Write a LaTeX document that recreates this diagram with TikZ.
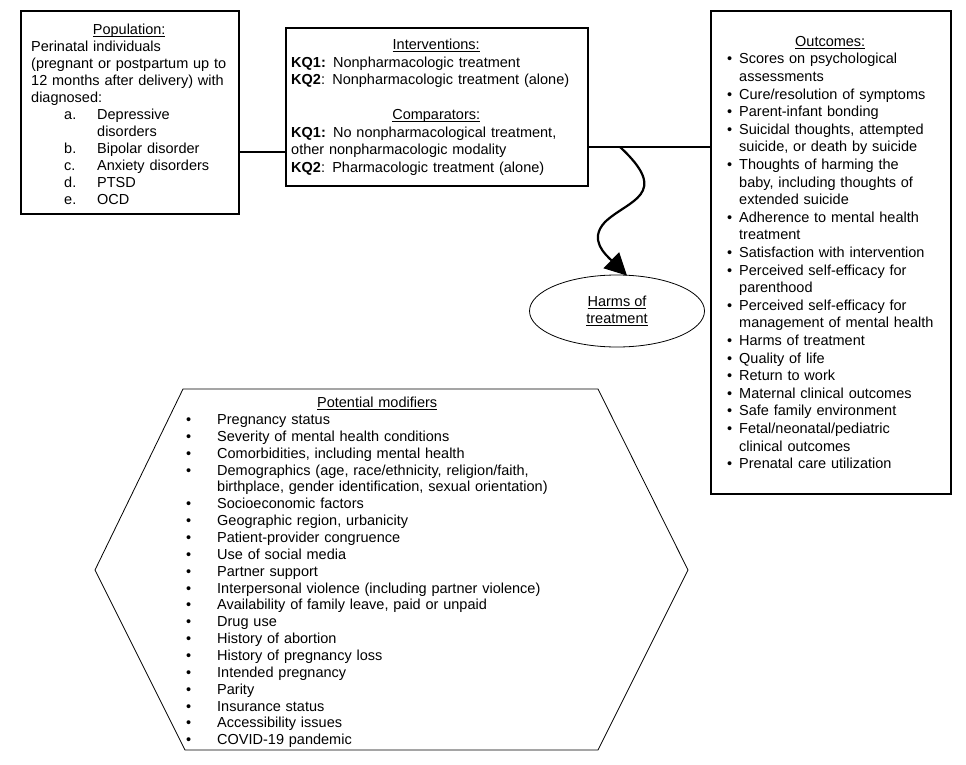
\documentclass[tikz,border=0pt]{standalone}
\usepackage{fontspec}
\setmainfont{Liberation Sans}
\usetikzlibrary{arrows.meta,shapes.geometric,calc}
\newcommand{\uln}[1]{\setbox0\hbox{#1}\rlap{\rule[-2pt]{\wd0}{0.6pt}}\box0}
\newcommand{\bul}[1]{\makebox[12pt][l]{\textbullet}#1}
\newcommand{\cnt}[1]{\hspace*{12pt}#1}
\newcommand{\hb}[1]{\makebox[31pt][l]{\textbullet}#1}
\newcommand{\hc}[1]{\hspace*{31pt}#1}
\begin{document}
\begin{tikzpicture}[x=1pt,y=-1pt,
  box/.style={draw, line width=1.6pt, rectangle, inner sep=0pt},
  txt/.style={inner sep=0pt, align=left, font=\fontsize{14.5}{17}\selectfont},
  conn/.style={line width=1.3pt},
  thin/.style={line width=0.8pt}]
\useasboundingbox (0,0) rectangle (966,765);

% boxes
\node[box, minimum width=218pt, minimum height=203pt, anchor=north west] (pop) at (20,10) {};
\node[box, minimum width=302pt, minimum height=158pt, anchor=north west] (int) at (285,27) {};
\node[box, minimum width=240pt, minimum height=483pt, anchor=north west] (out) at (710,10) {};

% population text
\node[txt, anchor=north west, text width=205pt] (poptxt) at (31,24) {%
\makebox[196pt]{\uln{Population:}}\\
Perinatal individuals\\
(pregnant or postpartum up to\\
12 months after delivery) with\\
diagnosed:\\
\hspace*{33pt}\makebox[33pt][l]{a.}Depressive\\
\hspace*{66pt}disorders\\
\hspace*{33pt}\makebox[33pt][l]{b.}Bipolar disorder\\
\hspace*{33pt}\makebox[33pt][l]{c.}Anxiety disorders\\
\hspace*{33pt}\makebox[33pt][l]{d.}PTSD\\
\hspace*{33pt}\makebox[33pt][l]{e.}OCD};

% interventions text
\node[txt, anchor=north west, text width=290pt, font=\fontsize{14.5}{17.5}\selectfont] (inttxt) at (291,39) {%
\makebox[290pt]{\uln{Interventions:}}\\
\textbf{KQ1:} Nonpharmacologic treatment\\
\textbf{KQ2}: Nonpharmacologic treatment (alone)\\[17.5pt]
\makebox[290pt]{\uln{Comparators:}}\\
\textbf{KQ1:} No nonpharmacological treatment,\\
other nonpharmacologic modality\\
\textbf{KQ2}: Pharmacologic treatment (alone)};

% outcomes text
\node[txt, anchor=north west, text width=220pt, font=\fontsize{14.5}{17.6}\selectfont] (outtxt) at (727,36) {%
\makebox[206pt]{\uln{Outcomes:}}\\
\bul{Scores on psychological}\\
\cnt{assessments}\\
\bul{Cure/resolution of symptoms}\\
\bul{Parent-infant bonding}\\
\bul{Suicidal thoughts, attempted}\\
\cnt{suicide, or death by suicide}\\
\bul{Thoughts of harming the}\\
\cnt{baby, including thoughts of}\\
\cnt{extended suicide}\\
\bul{Adherence to mental health}\\
\cnt{treatment}\\
\bul{Satisfaction with intervention}\\
\bul{Perceived self-efficacy for}\\
\cnt{parenthood}\\
\bul{Perceived self-efficacy for}\\
\cnt{management of mental health}\\
\bul{Harms of treatment}\\
\bul{Quality of life}\\
\bul{Return to work}\\
\bul{Maternal clinical outcomes}\\
\bul{Safe family environment}\\
\bul{Fetal/neonatal/pediatric}\\
\cnt{clinical outcomes}\\
\bul{Prenatal care utilization}};

% harms ellipse
\node[draw, ellipse, thin, minimum width=175pt, minimum height=72pt, align=center,
  font=\fontsize{14.5}{17}\selectfont] (harm) at (617,311) {\uln{Harms of}\\\uln{treatment}};

% connectors
\coordinate (c1) at (238,152);
\coordinate (split) at (620,147);
\draw[conn] (pop.east |- c1) -- (int.west |- c1);
\draw[conn] (int.east |- split) -- (out.west |- split);
\draw[line width=2.2pt, -{Triangle[length=22pt,width=22pt]}] (split)
  .. controls (672,195) and (628,200) .. (605,222)
  .. controls (588,240) and (606,255) .. ($(harm.north)+(10,1)$);

% modifiers hexagon
\coordinate (h1) at (183,389);
\coordinate (h2) at (598,389);
\coordinate (h3) at (688,570);
\coordinate (h4) at (598,750);
\coordinate (h5) at (185,750);
\coordinate (h6) at (95,570);
\draw[thin] (h1) -- (h2) -- (h3) -- (h4) -- (h5) -- (h6) -- cycle;
\node[txt, anchor=north west, text width=382pt, font=\fontsize{14.5}{16.85}\selectfont] (modtxt) at (186,397) {%
\makebox[382pt]{\uln{Potential modifiers}}\\
\hb{Pregnancy status}\\
\hb{Severity of mental health conditions}\\
\hb{Comorbidities, including mental health}\\
\hb{Demographics (age, race/ethnicity, religion/faith,}\\
\hc{birthplace, gender identification, sexual orientation)}\\
\hb{Socioeconomic factors}\\
\hb{Geographic region, urbanicity}\\
\hb{Patient-provider congruence}\\
\hb{Use of social media}\\
\hb{Partner support}\\
\hb{Interpersonal violence (including partner violence)}\\
\hb{Availability of family leave, paid or unpaid}\\
\hb{Drug use}\\
\hb{History of abortion}\\
\hb{History of pregnancy loss}\\
\hb{Intended pregnancy}\\
\hb{Parity}\\
\hb{Insurance status}\\
\hb{Accessibility issues}\\
\hb{COVID-19 pandemic}};
\end{tikzpicture}
\end{document}
